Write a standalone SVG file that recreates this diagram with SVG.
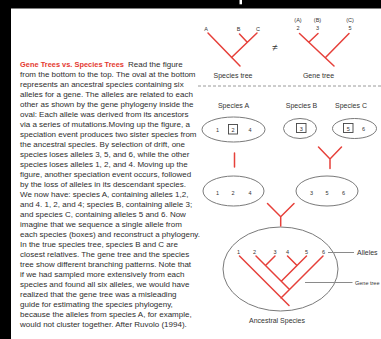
<svg xmlns="http://www.w3.org/2000/svg" width="381" height="339" viewBox="0 0 381 339">
  <style>
    .body { font-family: "Liberation Sans", Arial, sans-serif; font-size: 8px; fill: #2e2e2e; }
    .title { font-family: "Liberation Sans", Arial, sans-serif; font-size: 8px; font-weight: bold; fill: #e4392f; }
    .lbl { font-family: "Liberation Sans", Arial, sans-serif; font-size: 7px; fill: #333; text-anchor: middle; }
    .num { font-family: "Liberation Sans", Arial, sans-serif; font-size: 5.5px; fill: #333; text-anchor: middle; }
    .side { font-family: "Liberation Sans", Arial, sans-serif; font-size: 7px; fill: #333; }
    .oval { fill: none; stroke: #7a7a7a; stroke-width: 1; }
    .box { fill: none; stroke: #444; stroke-width: 0.9; }
    .tree { fill: none; stroke: #e6403a; stroke-width: 1.5; stroke-linecap: round; }
    .lead { stroke: #8a8a8a; stroke-width: 1; }
  </style>

  <rect x="0" y="0" width="381" height="339" fill="#ffffff"/>
  <!-- dark frame edges -->
  <rect x="0" y="0" width="381" height="8.5" fill="#000"/>
  <rect x="0" y="0" width="11" height="339" fill="#000"/>
  <rect x="239.5" y="0" width="2.5" height="4.3" fill="#fff"/>

  <!-- caption column -->
  <g id="caption">
    <text class="title" x="20" y="66.5" textLength="104" lengthAdjust="spacingAndGlyphs">Gene Trees vs. Species Trees</text>
    <text class="body" x="128" y="66.5">Read the figure</text>
    <text class="body" x="20" y="76.5">from the bottom to the top. The oval at the bottom</text>
    <text class="body" x="20" y="86.5">represents an ancestral species containing six</text>
    <text class="body" x="20" y="96.5">alleles for a gene. The alleles are related to each</text>
    <text class="body" x="20" y="106.5">other as shown by the gene phylogeny inside the</text>
    <text class="body" x="20" y="116.5">oval: Each allele was derived from its ancestors</text>
    <text class="body" x="20" y="126.5">via a series of mutations.Moving up the figure, a</text>
    <text class="body" x="20" y="136.5">speciation event produces two sister species from</text>
    <text class="body" x="20" y="146.5">the ancestral species. By selection of drift, one</text>
    <text class="body" x="20" y="156.5">species loses alleles 3, 5, and 6, while the other</text>
    <text class="body" x="20" y="166.5">species loses alleles 1, 2, and 4. Moving up the</text>
    <text class="body" x="20" y="176.5">figure, another speciation event occurs, followed</text>
    <text class="body" x="20" y="186.5">by the loss of alleles in its descendant species.</text>
    <text class="body" x="20" y="196.5">We now have: species A, containing alleles 1,2,</text>
    <text class="body" x="20" y="206.5">and 4. 1, 2, and 4; species B, containing allele 3;</text>
    <text class="body" x="20" y="216.5">and species C, containing alleles 5 and 6. Now</text>
    <text class="body" x="20" y="226.5">imagine that we sequence a single allele from</text>
    <text class="body" x="20" y="236.5">each species (boxes) and reconstruct a phylogeny.</text>
    <text class="body" x="20" y="246.5">In the true species tree, species B and C are</text>
    <text class="body" x="20" y="256.5">closest relatives. The gene tree and the species</text>
    <text class="body" x="20" y="266.5">tree show different branching patterns. Note that</text>
    <text class="body" x="20" y="276.5">if we had sampled more extensively from each</text>
    <text class="body" x="20" y="286.5">species and found all six alleles, we would have</text>
    <text class="body" x="20" y="296.5">realized that the gene tree was a misleading</text>
    <text class="body" x="20" y="306.5">guide for estimating the species phylogeny,</text>
    <text class="body" x="20" y="316.5">because the alleles from species A, for example,</text>
    <text class="body" x="20" y="326.5">would not cluster together. After Ruvolo (1994).</text>
  </g>

  <!-- species tree vs gene tree -->
  <g id="species-tree">
    <text class="num" x="206" y="31">A</text>
    <text class="num" x="238.5" y="31">B</text>
    <text class="num" x="258" y="31">C</text>
    <text class="lbl" x="233" y="78">Species tree</text>
  </g>
  <g id="not-equal">
    <text class="lbl" x="275" y="51" style="font-size:10px">≠</text>
  </g>
  <g id="gene-tree-top">
    <text class="num" x="298" y="22">(A)</text>
    <text class="num" x="298" y="29.5">2</text>
    <text class="num" x="317.5" y="22">(B)</text>
    <text class="num" x="317.5" y="29.5">3</text>
    <text class="num" x="350" y="22">(C)</text>
    <text class="num" x="350" y="29.5">5</text>
    <text class="lbl" x="318.5" y="78">Gene tree</text>
  </g>

  <line x1="198" y1="86" x2="381" y2="86" stroke="#9a9a9a" stroke-width="1" stroke-dasharray="3,2"/>

  <!-- present-day species -->
  <g id="species-a">
    <text class="lbl" x="233.5" y="108">Species A</text>
    <ellipse class="oval" cx="233.5" cy="129.5" rx="31.5" ry="12.5"/>
    <text class="num" x="217.5" y="131.5">1</text>
    <rect class="box" x="228.5" y="124.5" width="9" height="9.5"/>
    <text class="num" x="233" y="131.5">2</text>
    <text class="num" x="250" y="131.5">4</text>
  </g>
  <g id="species-b">
    <text class="lbl" x="301.5" y="108">Species B</text>
    <ellipse class="oval" cx="300" cy="128.5" rx="16.5" ry="10"/>
    <rect class="box" x="296.5" y="123.5" width="9.5" height="9"/>
    <text class="num" x="301.2" y="130.5">3</text>
  </g>
  <g id="species-c">
    <text class="lbl" x="351" y="108">Species C</text>
    <ellipse class="oval" cx="354.5" cy="128.5" rx="22" ry="10"/>
    <rect class="box" x="343.5" y="123.5" width="9.5" height="9"/>
    <text class="num" x="348.3" y="130.5">5</text>
    <text class="num" x="363.5" y="130.5">6</text>
  </g>

  <!-- intermediate species -->
  <g id="species-124">
    <ellipse class="oval" cx="233.5" cy="191" rx="30.5" ry="15"/>
    <text class="num" x="217.5" y="194.5">1</text>
    <text class="num" x="233" y="194.5">2</text>
    <text class="num" x="250" y="194.5">4</text>
  </g>
  <g id="species-356">
    <ellipse class="oval" cx="327" cy="191" rx="31" ry="15"/>
    <text class="num" x="311.5" y="194.5">3</text>
    <text class="num" x="327" y="194.5">5</text>
    <text class="num" x="343.5" y="194.5">6</text>
  </g>

  <!-- ancestral species -->
  <g id="ancestral-species">
    <ellipse class="oval" cx="280.5" cy="269" rx="57.5" ry="42"/>
    <text class="num" x="238.5" y="253.5">1</text>
    <text class="num" x="254.5" y="253.5">2</text>
    <text class="num" x="275" y="253.5">3</text>
    <text class="num" x="287.5" y="253.5">4</text>
    <text class="num" x="306.5" y="253.5">5</text>
    <text class="num" x="323.5" y="253.5">6</text>
    <text class="lbl" x="277" y="322.5">Ancestral Species</text>
  </g>
  <g id="label-alleles">
    <line class="lead" x1="328" y1="252.5" x2="354" y2="252.5"/>
    <text class="side" x="357" y="255">Alleles</text>
  </g>
  <g id="label-gene-tree">
    <line class="lead" x1="305" y1="282.5" x2="352.5" y2="282.5"/>
    <text class="side" x="355" y="284.5" style="font-size:5.5px">Gene tree</text>
  </g>

  <!-- branch lines -->
  <g id="connectors" class="tree">
    <!-- species tree -->
    <path d="M208 33 L240 66 M257 33 L231.5 57.5 M239.5 34 L247 42"/>
    <!-- gene tree (top) -->
    <path d="M299.5 33.5 L334 66 M318 33.5 L309.3 41.8 M349 33.5 L326 57"/>
    <!-- speciation of A -->
    <path d="M234.5 153 L234.5 167"/>
    <!-- speciation of B and C -->
    <path d="M318.5 147 L330 159 L341.5 147 M330 159 L330 168.5"/>
    <!-- first speciation -->
    <path d="M267.5 203.5 L280.7 216.7 L294 203.5 M280.7 216.7 L280.7 226"/>
    <!-- gene phylogeny in ancestral species -->
    <path d="M239.5 256 L289 305.5 M323 256 L281 298 M256 256 L289.5 289.5 M275 256 L265.5 265.5 M287.5 256 L297 265.5 L282 280.5 M306.5 256 L297 265.5"/>
  </g>
</svg>
